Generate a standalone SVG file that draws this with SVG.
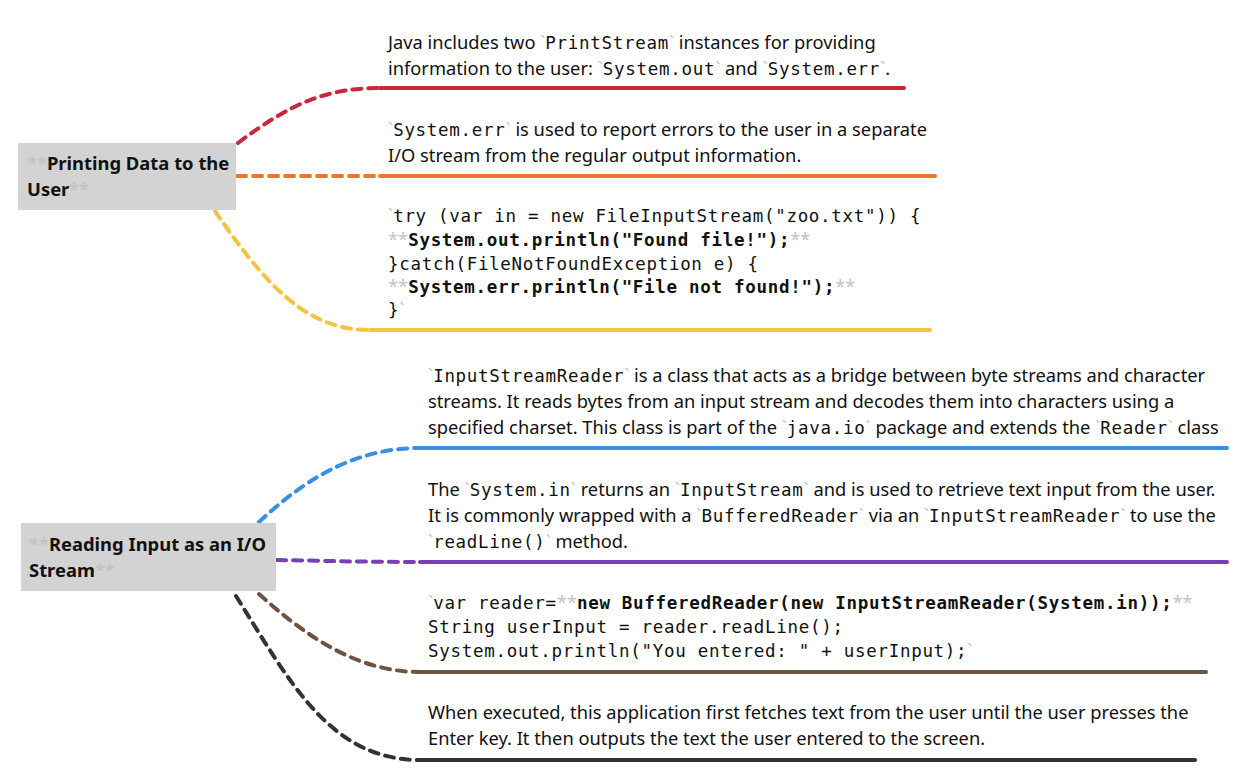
<svg xmlns="http://www.w3.org/2000/svg" width="1247" height="778" viewBox="0 0 1247 778">
<style>
.t{font-family:"Noto Sans","Liberation Sans",sans-serif;font-size:18.3px;fill:#111}
.m{font-family:"DejaVu Sans Mono","Liberation Mono",monospace;font-size:17.5px;letter-spacing:0.7px}
.b{font-weight:bold}
.g{fill:#c4c4c4}
.h{font-family:"Noto Sans","Liberation Sans",sans-serif;font-size:18.4px;font-weight:bold;fill:#111}
.node{fill:#d3d3d3}
.d{fill:none;stroke-width:4;stroke-dasharray:9 7;stroke-linecap:round}
.s{fill:none;stroke-width:4;stroke-linecap:round}
</style>
<g id="connectors">
<path class="d" stroke="#c8283a" d="M238,143 C290,104 325,88 380,88"/>
<path class="s" stroke="#c8283a" d="M380,88 H904"/>
<path class="d" stroke="#f0742c" d="M237,176 H380"/>
<path class="s" stroke="#f0742c" d="M380,176 H935"/>
<path class="d" stroke="#f5c242" d="M215,211 C270,292 310,330 370,330"/>
<path class="s" stroke="#f5c242" d="M370,330 H930"/>
<path class="d" stroke="#3a8ee6" d="M259,522 C300,484 350,448 420,448"/>
<path class="s" stroke="#3a8ee6" d="M420,448 H1227"/>
<path class="d" stroke="#7b3fb5" d="M277,560 C330,561 370,562 420,562"/>
<path class="s" stroke="#7b3fb5" d="M420,562 H1227"/>
<path class="d" stroke="#6e5340" d="M259,594 C310,640 360,672 420,672"/>
<path class="s" stroke="#6e5340" d="M420,672 H1206"/>
<path class="d" stroke="#333333" d="M236,596 C290,682 330,760 420,760"/>
<path class="s" stroke="#333333" d="M420,760 H1195"/>
</g>
<g id="node-printing">
<rect class="node" x="18" y="143" width="218" height="67"/>
<text class="h" x="27" y="170"><tspan class="g">**</tspan>Printing Data to the</text>
<text class="h" x="27" y="196">User<tspan class="g">**</tspan></text>
</g>
<g id="node-reading">
<rect class="node" x="21" y="523" width="255" height="68"/>
<text class="h" x="29" y="551"><tspan class="g">**</tspan>Reading Input as an I/O</text>
<text class="h" x="29" y="577">Stream<tspan class="g">**</tspan></text>
</g>
<g id="leaf-red">
<text class="t" x="388" y="49" xml:space="preserve">Java includes two <tspan class="g">`</tspan><tspan class="m">PrintStream</tspan><tspan class="g">`</tspan> instances for providing</text>
<text class="t" x="388" y="75" xml:space="preserve">information to the user: <tspan class="g">`</tspan><tspan class="m">System.out</tspan><tspan class="g">`</tspan> and <tspan class="g">`</tspan><tspan class="m">System.err</tspan><tspan class="g">`</tspan>.</text>
</g>
<g id="leaf-orange">
<text class="t" x="388" y="136" xml:space="preserve"><tspan class="g">`</tspan><tspan class="m">System.err</tspan><tspan class="g">`</tspan> is used to report errors to the user in a separate</text>
<text class="t" x="388" y="162">I/O stream from the regular output information.</text>
</g>
<g id="leaf-yellow" class="t">
<text x="388" y="222" xml:space="preserve"><tspan class="g">`</tspan><tspan class="m">try (var in = new FileInputStream("zoo.txt")) {</tspan></text>
<text x="388" y="246" xml:space="preserve"><tspan class="g">**</tspan><tspan class="m b">System.out.println("Found file!");</tspan><tspan class="g">**</tspan></text>
<text x="388" y="270" xml:space="preserve"><tspan class="m">}catch(FileNotFoundException e) {</tspan></text>
<text x="388" y="293" xml:space="preserve"><tspan class="g">**</tspan><tspan class="m b">System.err.println("File not found!");</tspan><tspan class="g">**</tspan></text>
<text x="388" y="316" xml:space="preserve"><tspan class="m">}</tspan><tspan class="g">`</tspan></text>
</g>
<g id="leaf-blue">
<text class="t" x="428" y="382" xml:space="preserve"><tspan class="g">`</tspan><tspan class="m">InputStreamReader</tspan><tspan class="g">`</tspan> is a class that acts as a bridge between byte streams and character</text>
<text class="t" x="428" y="408">streams. It reads bytes from an input stream and decodes them into characters using a</text>
<text class="t" x="428" y="434" xml:space="preserve">specified charset. This class is part of the <tspan class="g">`</tspan><tspan class="m">java.io</tspan><tspan class="g">`</tspan> package and extends the <tspan class="g">`</tspan><tspan class="m">Reader</tspan><tspan class="g">`</tspan> class</text>
</g>
<g id="leaf-purple">
<text class="t" x="428" y="496" xml:space="preserve">The <tspan class="g">`</tspan><tspan class="m">System.in</tspan><tspan class="g">`</tspan> returns an <tspan class="g">`</tspan><tspan class="m">InputStream</tspan><tspan class="g">`</tspan> and is used to retrieve text input from the user.</text>
<text class="t" x="428" y="522" xml:space="preserve">It is commonly wrapped with a <tspan class="g">`</tspan><tspan class="m">BufferedReader</tspan><tspan class="g">`</tspan> via an <tspan class="g">`</tspan><tspan class="m">InputStreamReader</tspan><tspan class="g">`</tspan> to use the</text>
<text class="t" x="428" y="548" xml:space="preserve"><tspan class="g">`</tspan><tspan class="m">readLine()</tspan><tspan class="g">`</tspan> method.</text>
</g>
<g id="leaf-brown" class="t">
<text x="428" y="609" xml:space="preserve"><tspan class="g">`</tspan><tspan class="m">var reader=</tspan><tspan class="g">**</tspan><tspan class="m b">new BufferedReader(new InputStreamReader(System.in));</tspan><tspan class="g">**</tspan></text>
<text x="428" y="633" xml:space="preserve"><tspan class="m">String userInput = reader.readLine();</tspan></text>
<text x="428" y="657" xml:space="preserve"><tspan class="m">System.out.println("You entered: " + userInput);</tspan><tspan class="g">`</tspan></text>
</g>
<g id="leaf-dark">
<text class="t" x="428" y="719">When executed, this application first fetches text from the user until the user presses the</text>
<text class="t" x="428" y="745">Enter key. It then outputs the text the user entered to the screen.</text>
</g>
</svg>
